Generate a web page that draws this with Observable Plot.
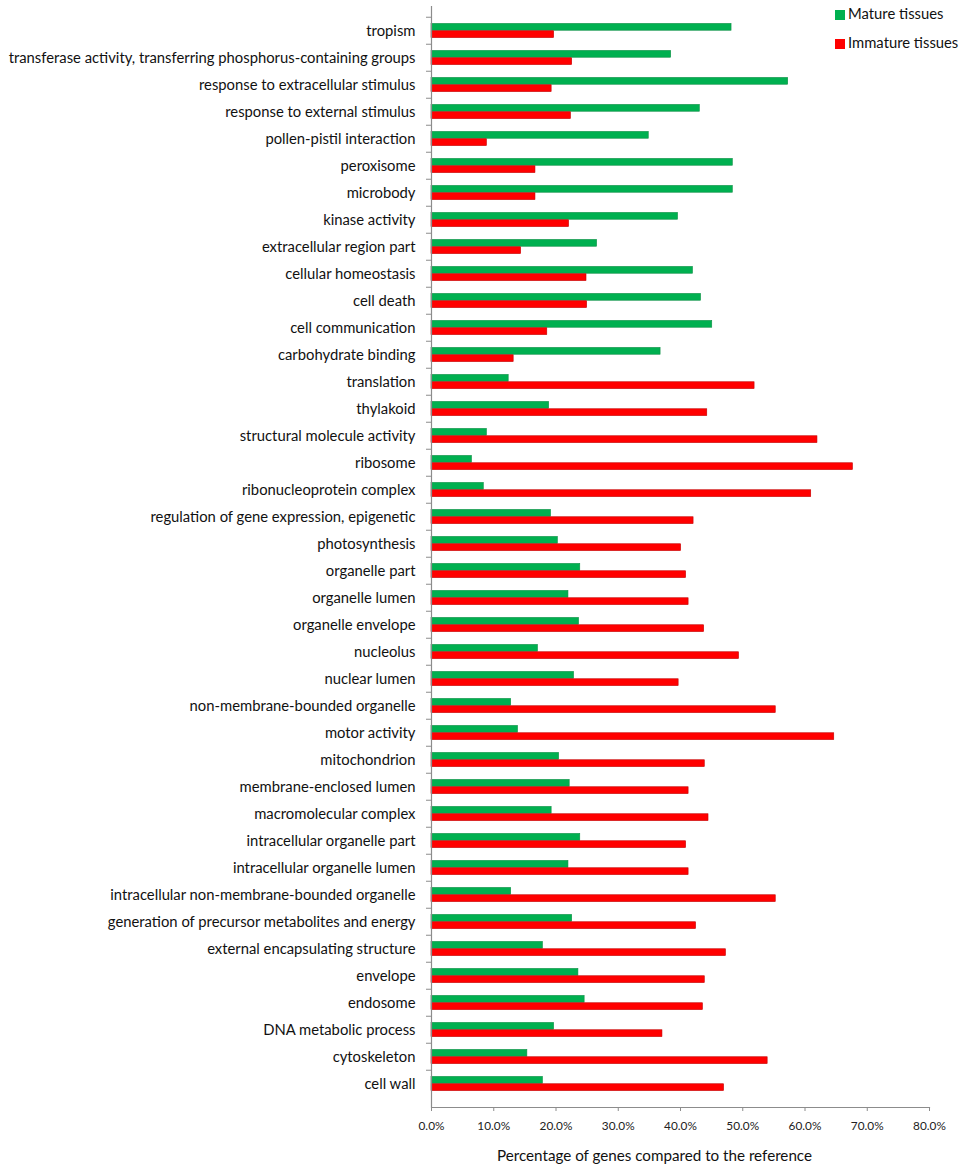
<!DOCTYPE html>
<html><head><meta charset="utf-8">
<script src="https://cdn.jsdelivr.net/npm/d3@7"></script>
<script src="https://cdn.jsdelivr.net/npm/@observablehq/plot@0.6"></script>
<style>
body{margin:0;background:#fff;}
#wrap{position:relative;width:964px;height:1169px;overflow:hidden;}
.leg{position:absolute;left:835px;font-family:Lato,sans-serif;font-size:14.8px;color:#111;line-height:1;white-space:nowrap;}
.leg span.sw{display:inline-block;width:10px;height:10px;margin-right:3px;vertical-align:-1px;}
.xtitle{position:absolute;left:654.5px;top:1146px;transform:translateX(-50%);font-family:Lato,sans-serif;font-size:15.2px;color:#111;white-space:nowrap;}
</style></head><body><div id="wrap"></div>
<script>
const categories = ["tropism","transferase activity, transferring phosphorus-containing groups","response to extracellular stimulus","response to external stimulus","pollen-pistil interaction","peroxisome","microbody","kinase activity","extracellular region part","cellular homeostasis","cell death","cell communication","carbohydrate binding","translation","thylakoid","structural molecule activity","ribosome","ribonucleoprotein complex","regulation of gene expression, epigenetic","photosynthesis","organelle part","organelle lumen","organelle envelope","nucleolus","nuclear lumen","non-membrane-bounded organelle","motor activity","mitochondrion","membrane-enclosed lumen","macromolecular complex","intracellular organelle part","intracellular organelle lumen","intracellular non-membrane-bounded organelle","generation of precursor metabolites and energy","external encapsulating structure","envelope","endosome","DNA metabolic process","cytoskeleton","cell wall"];
const mature = [48.2,38.5,57.3,43.1,34.9,48.4,48.4,39.6,26.6,42.0,43.3,45.1,36.8,12.4,18.9,8.9,6.5,8.4,19.2,20.3,23.9,22.0,23.7,17.1,22.9,12.8,13.9,20.5,22.2,19.3,23.9,22.0,12.8,22.6,17.9,23.6,24.6,19.7,15.4,17.9];
const immature = [19.7,22.6,19.3,22.4,8.9,16.7,16.7,22.1,14.4,24.9,25.0,18.6,13.2,51.9,44.3,62.0,67.7,61.0,42.1,40.1,40.9,41.3,43.8,49.4,39.7,55.3,64.7,43.9,41.3,44.5,40.9,41.3,55.3,42.5,47.3,43.9,43.6,37.1,54.0,47.0];
const xTicks = [0,10,20,30,40,50,60,70,80];
const seriesNames = ["Mature tissues","Immature tissues"];
const seriesColors = ["#00b050","#ff0000"];
const seriesStrokes = ["#0e8f45","#c40000"];
const xTitle = "Percentage of genes compared to the reference";

const W=964,H=1169,mt=6,mb=62,ml=431,mr=35;
const step=(H-mt-mb)/categories.length;
const barH=step*0.267;
const outer=(step-2*barH)/2;
const rows=categories.map((c,i)=>({category:c,mature:mature[i],immature:immature[i]}));

const chart=Plot.plot({
  width:W,height:H,marginTop:mt,marginBottom:mb,marginLeft:ml,marginRight:mr,
  style:{fontFamily:"Lato, sans-serif",color:"#111",background:"#fff"},
  x:{domain:[0,80]},
  y:{domain:categories,padding:0},
  marks:[
    Plot.barX(rows,{x:"mature",y:"category",insetTop:outer,insetBottom:step-outer-barH,fill:seriesColors[0],stroke:seriesStrokes[0],strokeWidth:0.6}),
    Plot.barX(rows,{x:"immature",y:"category",insetTop:outer+barH,insetBottom:outer,fill:seriesColors[1],stroke:seriesStrokes[1],strokeWidth:0.6}),
    Plot.ruleX([0],{stroke:"#8c8c8c",strokeWidth:1.2}),
    Plot.frame({anchor:"bottom",stroke:"#8c8c8c",strokeWidth:1.2}),
    Plot.axisX({ticks:xTicks,text:null,tickSize:4,stroke:"#8c8c8c",label:null}),
    Plot.axisX({ticks:xTicks,tickSize:0,tickPadding:14,tickFormat:d=>d.toFixed(1)+"%",fontSize:11.8,fill:"#222",label:null}),
    Plot.axisY({tickSize:0,tickPadding:16,fontSize:14.8,fill:"#111",label:null}),
    Plot.axisY({text:null,tickSize:5,dy:-step/2,stroke:"#8c8c8c",label:null})
  ]
});
const wrap=document.getElementById("wrap");
wrap.appendChild(chart);
const tops=[6,34.5];
seriesNames.forEach((n,i)=>{
  const d=document.createElement("div");
  d.className="leg";d.style.top=tops[i]+"px";
  d.innerHTML=`<span class="sw" style="background:${seriesColors[i]}"></span>${n}`;
  wrap.appendChild(d);
});
const t=document.createElement("div");t.className="xtitle";t.textContent=xTitle;wrap.appendChild(t);
</script></body></html>
